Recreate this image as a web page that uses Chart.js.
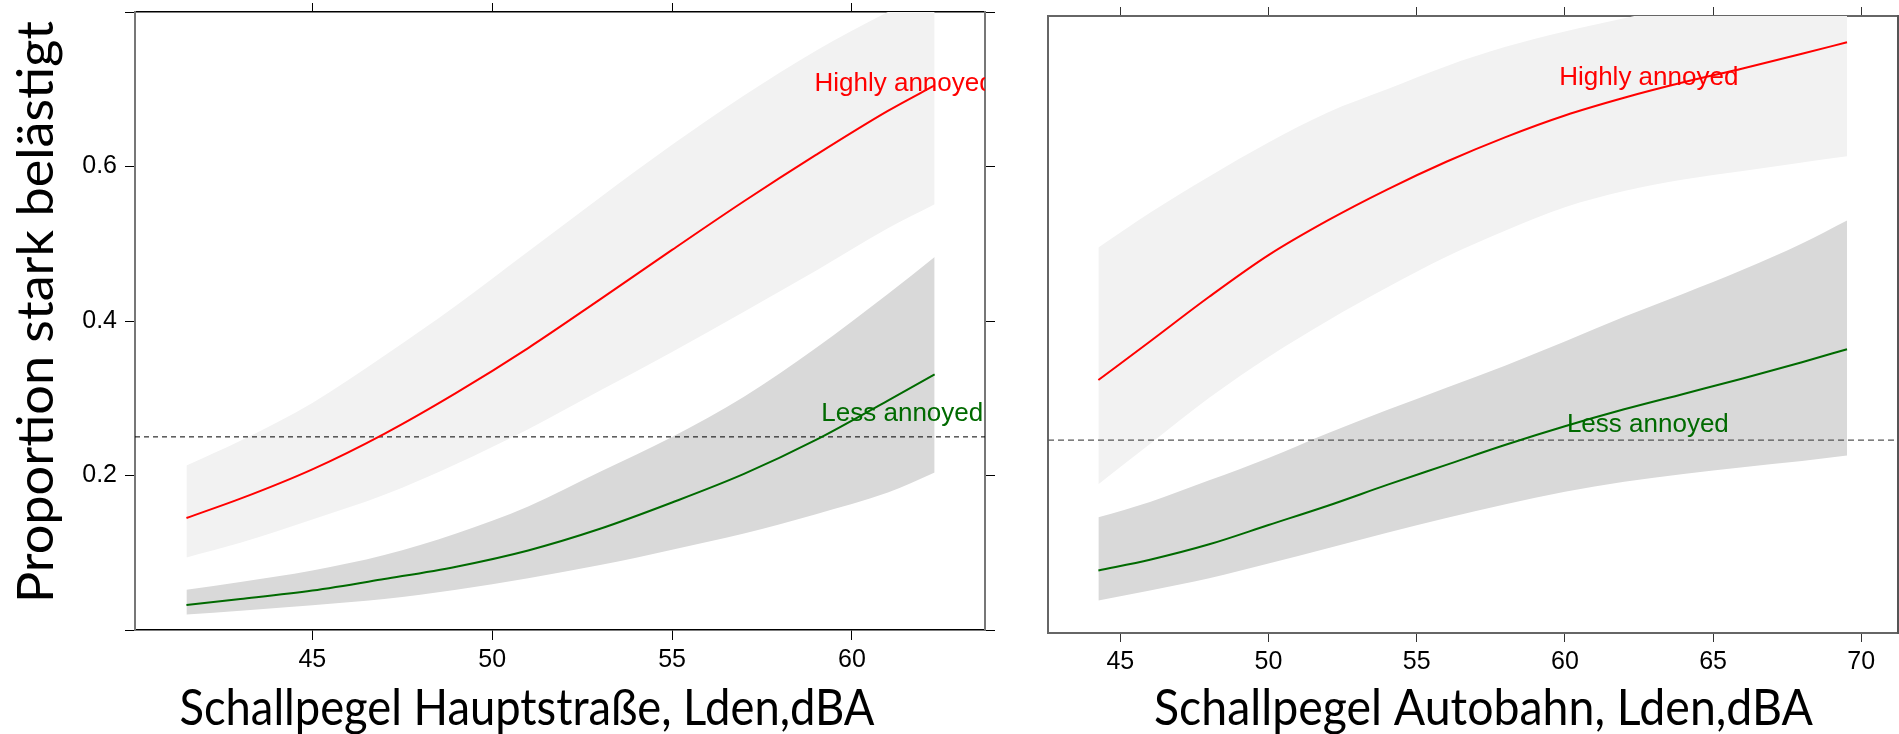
<!DOCTYPE html>
<html>
<head>
<meta charset="utf-8">
<script src="https://cdn.jsdelivr.net/npm/chart.js@4.4.1/dist/chart.umd.min.js"></script>
<style>
html,body{margin:0;padding:0;background:#fff;overflow:hidden}
#wrap{position:relative;width:1899px;height:734px;background:#fff}
canvas{position:absolute;top:0}
#c1{left:0}
#c2{left:1000px}
</style>
</head>
<body>
<div id="wrap">
<canvas id="c1" width="1000" height="734"></canvas>
<canvas id="c2" width="899" height="734"></canvas>
</div>
<script>
// ---------- data: main road (Hauptstraße) ----------
const xRoad          = [41.5, 43, 45, 47, 49, 51, 53, 55, 57, 59, 61, 62.3];
const roadHighFit    = [0.145, 0.170, 0.208, 0.254, 0.307, 0.365, 0.428, 0.492, 0.555, 0.615, 0.672, 0.705];
const roadHighUpper  = [0.213, 0.245, 0.294, 0.355, 0.420, 0.490, 0.560, 0.628, 0.692, 0.750, 0.800, 0.830];
const roadHighLower  = [0.094, 0.113, 0.143, 0.175, 0.215, 0.260, 0.310, 0.360, 0.412, 0.465, 0.520, 0.551];
const roadLessFit    = [0.0325, 0.040, 0.051, 0.066, 0.082, 0.103, 0.131, 0.165, 0.202, 0.246, 0.297, 0.331];
const roadLessUpper  = [0.052, 0.062, 0.077, 0.097, 0.125, 0.160, 0.205, 0.250, 0.302, 0.365, 0.435, 0.483];
const roadLessLower  = [0.020, 0.025, 0.032, 0.040, 0.052, 0.067, 0.084, 0.104, 0.125, 0.150, 0.178, 0.204];

// ---------- data: motorway (Autobahn) ----------
const xMotorway      = [44.26, 46, 48, 50, 52, 54, 56, 58, 60, 62, 64, 66, 68, 69.52];
const mwHighFit      = [0.328, 0.378, 0.436, 0.490, 0.535, 0.575, 0.611, 0.643, 0.671, 0.694, 0.714, 0.732, 0.751, 0.766];
const mwHighUpper    = [0.500, 0.545, 0.592, 0.636, 0.675, 0.705, 0.735, 0.760, 0.780, 0.797, 0.815, 0.832, 0.850, 0.865];
const mwHighLower    = [0.193, 0.245, 0.305, 0.358, 0.405, 0.448, 0.488, 0.522, 0.552, 0.573, 0.588, 0.599, 0.610, 0.618];
const mwLessFit      = [0.081, 0.095, 0.115, 0.140, 0.165, 0.192, 0.218, 0.244, 0.268, 0.290, 0.310, 0.330, 0.351, 0.368];
const mwLessUpper    = [0.150, 0.170, 0.198, 0.227, 0.259, 0.289, 0.318, 0.347, 0.378, 0.410, 0.440, 0.471, 0.505, 0.535];
const mwLessLower    = [0.042, 0.055, 0.071, 0.090, 0.110, 0.130, 0.149, 0.167, 0.183, 0.196, 0.206, 0.215, 0.223, 0.230];

// ---------- ticks, labels, reference level ----------
const yTickValues    = [0, 0.2, 0.4, 0.6, 0.8];
const yTickLabels    = ['', '0.2', '0.4', '0.6', ''];
const xTicksRoad     = [45, 50, 55, 60];
const xTicksMotorway = [45, 50, 55, 60, 65, 70];
const thresholdLevel = 0.25;
const seriesNames    = ['Highly annoyed', 'Less annoyed'];
const yAxisTitle     = 'Proportion stark belästigt';
const xTitleRoad     = 'Schallpegel Hauptstraße, Lden,dBA';
const xTitleMotorway = 'Schallpegel Autobahn, Lden,dBA';
const roadLabelX     = [61.45, 61.4];
const roadLabelY     = [0.698, 0.2705];
const mwLabelX       = [62.83, 62.8];
const mwLabelY       = [0.7105, 0.2606];

const RED = '#ff0000', GREEN = '#006a00';
const BAND_HIGH = '#f2f2f2', BAND_LESS = '#d9d9d9';
const TITLE_FAMILY = 'Lato, "Open Sans", sans-serif';

function pts(x, arr) { return x.map((v, i) => ({x: v, y: arr[i]})); }

function group(x, fit, hi, lo, lineColor, bandColor) {
  const common = {xAxisID: 'x', yAxisID: 'y', pointRadius: 0, cubicInterpolationMode: 'monotone'};
  return [
    Object.assign({data: pts(x, fit), borderColor: lineColor, borderWidth: 2, fill: false, order: 0}, common),
    Object.assign({data: pts(x, hi), borderWidth: 0, borderColor: 'rgba(0,0,0,0)', backgroundColor: bandColor, fill: '+1', order: 5}, common),
    Object.assign({data: pts(x, lo), borderWidth: 0, borderColor: 'rgba(0,0,0,0)', fill: false, order: 5}, common)
  ];
}

const textPlugin = {
  id: 'panelText',
  afterDatasetsDraw(chart, args, opts) {
    const ctx = chart.ctx, a = chart.chartArea;
    ctx.save();
    ctx.beginPath();
    ctx.rect(a.left, a.top, a.right - a.left, a.bottom - a.top);
    ctx.clip();
    (opts.labels || []).forEach(l => {
      ctx.font = l.font;
      ctx.fillStyle = l.color;
      ctx.textAlign = 'center';
      ctx.textBaseline = 'alphabetic';
      ctx.fillText(l.text, chart.scales.x.getPixelForValue(l.x), chart.scales.y.getPixelForValue(l.y));
    });
    ctx.restore();
  },
  afterDraw(chart, args, opts) {
    const ctx = chart.ctx;
    (opts.titles || []).forEach(t => {
      ctx.save();
      ctx.font = t.size + 'px ' + t.family;
      const w = ctx.measureText(t.text).width;
      ctx.fillStyle = '#000';
      ctx.textAlign = 'center';
      ctx.textBaseline = 'alphabetic';
      ctx.translate(t.x, t.y);
      if (t.rotate) ctx.rotate(t.rotate);
      ctx.scale(t.width / w, 1);
      ctx.fillText(t.text, 0, 0);
      ctx.restore();
    });
  }
};

const TICK_FONT = {family: '"Liberation Sans", Arial, sans-serif', size: 25};
const LABEL_FONT = '26px "Liberation Sans", Arial, sans-serif';

function xScale(pos, min, max, ticks, size, showLabels, lineColor, borderColor, borderWidth, tl) {
  return {
    type: 'linear', position: pos, min: min, max: max,
    afterBuildTicks: s => { s.ticks = ticks.map(v => ({value: v})); },
    ticks: {display: showLabels, font: TICK_FONT, color: '#000', padding: 5, maxRotation: 0, autoSkip: false,
            callback: v => String(v)},
    grid: {drawOnChartArea: false, drawTicks: true, tickLength: tl, color: lineColor, lineWidth: 1},
    border: {display: true, color: borderColor, width: borderWidth},
    afterFit: s => { s.height = size; s.paddingLeft = 0; s.paddingRight = 0; s.paddingTop = 0; s.paddingBottom = 0; }
  };
}
function yScale(pos, size, withTicks, showLabels, borderColor, borderWidth) {
  return {
    type: 'linear', position: pos, min: 0, max: 0.8,
    afterBuildTicks: s => { s.ticks = yTickValues.map(v => ({value: v})); },
    ticks: {display: showLabels, font: TICK_FONT, color: '#000', padding: 8, callback: (v, i) => yTickLabels[i]},
    grid: {drawOnChartArea: false, drawTicks: withTicks, tickLength: 10, color: '#000', lineWidth: 1},
    border: {display: true, color: borderColor, width: borderWidth},
    afterFit: s => { s.width = size; s.paddingLeft = 0; s.paddingRight = 0; s.paddingTop = 0; s.paddingBottom = 0; }
  };
}

// ---------- left panel: Hauptstraße ----------
const roadMin = 40.07, roadMax = 63.70;
new Chart(document.getElementById('c1'), {
  type: 'line',
  data: {
    datasets: [
      ...group(xRoad, roadHighFit, roadHighUpper, roadHighLower, RED, BAND_HIGH),
      ...group(xRoad, roadLessFit, roadLessUpper, roadLessLower, GREEN, BAND_LESS),
      {xAxisID: 'x', yAxisID: 'y', data: [{x: roadMin, y: thresholdLevel}, {x: roadMax, y: thresholdLevel}],
       borderColor: '#000', borderWidth: 1, borderDash: [5, 4], pointRadius: 0, fill: false, order: 1}
    ]
  },
  options: {
    responsive: false, animation: false, devicePixelRatio: 1,
    layout: {padding: 0},
    plugins: {
      legend: {display: false}, tooltip: {enabled: false},
      panelText: {
        labels: [
          {text: seriesNames[0], x: roadLabelX[0], y: roadLabelY[0], color: RED, font: LABEL_FONT},
          {text: seriesNames[1], x: roadLabelX[1], y: roadLabelY[1], color: GREEN, font: LABEL_FONT}
        ],
        titles: [
          {text: yAxisTitle, family: TITLE_FAMILY, size: 50, width: 582, x: 53, y: 312, rotate: -Math.PI / 2},
          {text: xTitleRoad, family: TITLE_FAMILY, size: 50, width: 695, x: 527, y: 725}
        ]
      }
    },
    scales: {
      x: xScale('bottom', roadMin, roadMax, xTicksRoad, 104, true, '#000', '#000', 1.5, 10),
      x2: xScale('top', roadMin, roadMax, xTicksRoad, 12, false, '#000', '#000', 1.5, 9),
      y: yScale('left', 135, true, true, '#777', 2),
      y2: yScale('right', 15, true, false, '#777', 2)
    }
  },
  plugins: [textPlugin]
});

// ---------- right panel: Autobahn ----------
const mwMin = 42.56, mwMax = 71.24;
new Chart(document.getElementById('c2'), {
  type: 'line',
  data: {
    datasets: [
      ...group(xMotorway, mwHighFit, mwHighUpper, mwHighLower, RED, BAND_HIGH),
      ...group(xMotorway, mwLessFit, mwLessUpper, mwLessLower, GREEN, BAND_LESS),
      {xAxisID: 'x', yAxisID: 'y', data: [{x: mwMin, y: thresholdLevel}, {x: mwMax, y: thresholdLevel}],
       borderColor: '#555', borderWidth: 1.3, borderDash: [6, 4], pointRadius: 0, fill: false, order: 1}
    ]
  },
  options: {
    responsive: false, animation: false, devicePixelRatio: 1,
    layout: {padding: 0},
    plugins: {
      legend: {display: false}, tooltip: {enabled: false},
      panelText: {
        labels: [
          {text: seriesNames[0], x: mwLabelX[0], y: mwLabelY[0], color: RED, font: LABEL_FONT},
          {text: seriesNames[1], x: mwLabelX[1], y: mwLabelY[1], color: GREEN, font: LABEL_FONT}
        ],
        titles: [
          {text: xTitleMotorway, family: TITLE_FAMILY, size: 50, width: 659, x: 483.5, y: 725}
        ]
      }
    },
    scales: {
      x: xScale('bottom', mwMin, mwMax, xTicksMotorway, 101, true, '#333', '#666', 2, 9),
      x2: xScale('top', mwMin, mwMax, xTicksMotorway, 16, false, '#333', '#666', 2, 9),
      y: yScale('left', 48, false, false, '#666', 2),
      y2: yScale('right', 1, false, false, '#555', 2)
    }
  },
  plugins: [textPlugin]
});
</script>
</body>
</html>
